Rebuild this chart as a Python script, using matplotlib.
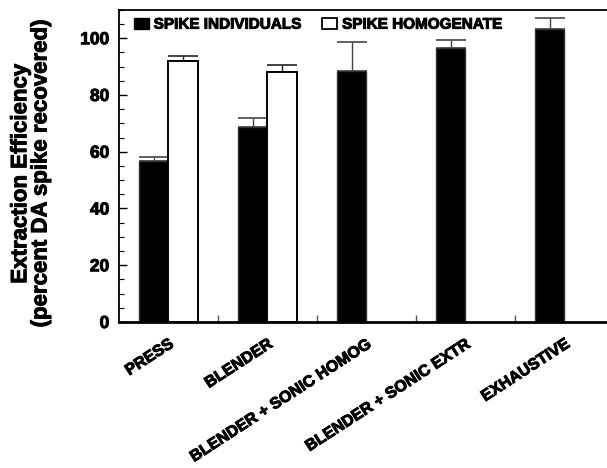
import numpy as np
import matplotlib
matplotlib.use('Agg')
import matplotlib.pyplot as plt
import matplotlib.patheffects as pe
from matplotlib.patches import Patch
from matplotlib.ticker import MultipleLocator, FixedLocator

plt.rcParams['font.family'] = ['Liberation Sans', 'DejaVu Sans']
plt.rcParams['font.weight'] = 'bold'

categories = ['PRESS', 'BLENDER', 'BLENDER + SONIC HOMOG', 'BLENDER + SONIC EXTR', 'EXHAUSTIVE']
individuals = [56.9, 68.6, 88.6, 96.5, 103.3]
individuals_err = [1.3, 3.4, 9.9, 2.9, 3.8]
homogenate = [92.0, 88.2]
homogenate_err = [1.7, 2.2]

heavy = [pe.withStroke(linewidth=0.7, foreground='black')]

fig = plt.figure(figsize=(6.07, 4.68), dpi=100)
ax = fig.add_axes([0.196, 0.312, 0.8155, 0.667])

x = np.arange(len(categories))
w = 0.3
xh = x[:len(homogenate)]

ax.bar(x - w / 2, individuals, w, color='black', edgecolor='#333333', linewidth=1.0, zorder=2)
ax.bar(xh + w / 2, homogenate, w, color='white', edgecolor='black', linewidth=1.4, zorder=2)

ax.errorbar(x - w / 2, individuals, yerr=[np.zeros(len(x)), individuals_err],
            fmt='none', ecolor='#444444', elinewidth=1.0, capsize=10.6, capthick=1.2, zorder=1)
ax.errorbar(xh + w / 2, homogenate, yerr=[np.zeros(len(xh)), homogenate_err],
            fmt='none', ecolor='#222222', elinewidth=1.0, capsize=10.6, capthick=1.2, zorder=1)

ax.set_xlim(-0.5, len(categories) - 0.5)
ax.set_ylim(0, 110)

ax.yaxis.set_major_locator(FixedLocator([0, 20, 40, 60, 80, 100]))
ax.yaxis.set_minor_locator(MultipleLocator(5))
ax.tick_params(axis='y', which='major', direction='in', length=6, width=1.0, labelsize=12.5, pad=7)
ax.tick_params(axis='y', which='minor', direction='in', length=3.5, width=0.8)

# group separators as ticks, labels at group centres
ax.xaxis.set_major_locator(FixedLocator(x[1:] - 0.5))
ax.xaxis.set_major_formatter(plt.NullFormatter())
ax.xaxis.set_minor_locator(FixedLocator(x))
ax.set_xticklabels(categories, minor=True, rotation=33, ha='right', rotation_mode='anchor', fontsize=11.5)
ax.tick_params(axis='x', which='major', direction='in', length=5, width=1.0, color='#555555')
ax.tick_params(axis='x', which='minor', length=0, pad=10)

for s in ['left', 'top', 'right']:
    ax.spines[s].set_linewidth(1.3)
ax.spines['bottom'].set_linewidth(2.0)

ax.set_ylabel('Extraction Efficiency\n(percent DA spike recovered)', fontsize=16, fontweight='bold',
              linespacing=0.95)
ax.yaxis.set_label_coords(-0.178, 0.475)
ax.yaxis.label.set_verticalalignment('center')

handles = [Patch(facecolor='black', edgecolor='black'), Patch(facecolor='white', edgecolor='black', linewidth=1.3)]
leg = ax.legend(handles, ['SPIKE INDIVIDUALS', 'SPIKE HOMOGENATE'], ncol=2, frameon=False,
                loc='upper left', bbox_to_anchor=(0.030, 0.975), borderpad=0, borderaxespad=0,
                handlelength=1.0, handleheight=0.75, handletextpad=0.3, columnspacing=1.4,
                prop={'size': 11, 'weight': 'bold'})

for t in ax.get_yticklabels() + ax.get_xticklabels(minor=True) + leg.get_texts() + [ax.yaxis.label]:
    t.set_path_effects(heavy)

plt.savefig('out.png', dpi=100)
